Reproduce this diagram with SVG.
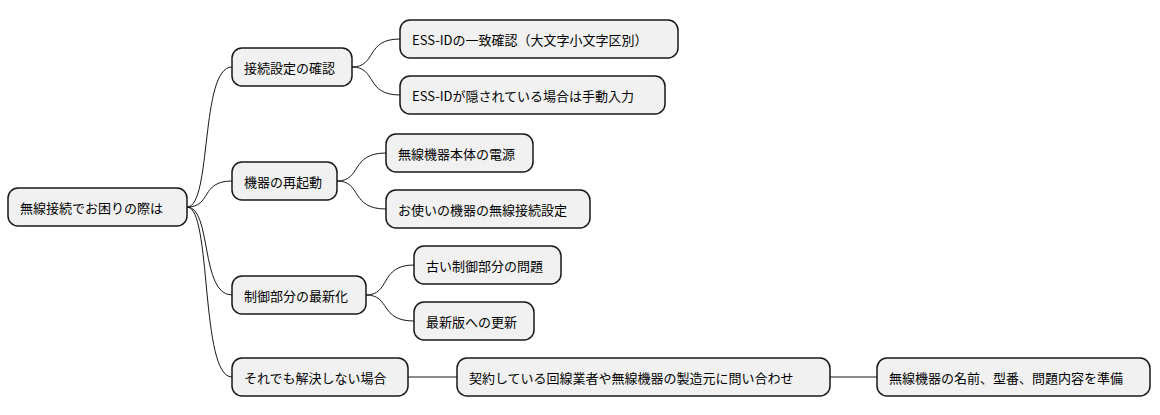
<svg xmlns="http://www.w3.org/2000/svg" width="1160" height="415" viewBox="0 0 1160 415">
<style>
rect{fill:#f1f1f1;stroke:#181818;stroke-width:1.5}
text{font-family:"Noto Sans CJK JP","DejaVu Sans",sans-serif;font-size:13px;fill:#000;dominant-baseline:central}
#edges path{fill:none;stroke:#181818;stroke-width:1}
</style>
<rect x="0" y="0" width="1160" height="415" style="fill:#fff;stroke:none"/>
<g id="edges">
<path d="M187,207 C212,207 200,67 232,67"/>
<path d="M187,207 C212,207 200,181 232,181"/>
<path d="M187,207 C212,207 200,295 232,295"/>
<path d="M187,207 C212,207 200,377 232,377"/>
<path d="M352,67 C377,67 365,39 400,39"/>
<path d="M352,67 C377,67 365,95 400,95"/>
<path d="M337,181 C362,181 350,153 386,153"/>
<path d="M337,181 C362,181 350,209 386,209"/>
<path d="M366,295 C391,295 379,265 414,265"/>
<path d="M366,295 C391,295 379,321 414,321"/>
<path d="M408,377 L457,377"/>
<path d="M830,377 L877,377"/>
</g>
<g id="root"><rect x="8" y="188" width="179" height="38" rx="10"/><text x="20" y="207">無線接続でお困りの際は</text></g>
<g id="n1"><rect x="232" y="48" width="120" height="38" rx="10"/><text x="244" y="67">接続設定の確認</text></g>
<g id="n2"><rect x="232" y="162" width="105" height="38" rx="10"/><text x="244" y="181">機器の再起動</text></g>
<g id="n3"><rect x="232" y="276" width="134" height="38" rx="10"/><text x="244" y="295">制御部分の最新化</text></g>
<g id="n4"><rect x="232" y="358" width="176" height="38" rx="10"/><text x="244" y="377">それでも解決しない場合</text></g>
<g id="n11"><rect x="400" y="20" width="278" height="38" rx="10"/><text x="412" y="39">ESS-IDの一致確認（大文字小文字区別）</text></g>
<g id="n12"><rect x="400" y="76" width="265" height="38" rx="10"/><text x="412" y="95">ESS-IDが隠されている場合は手動入力</text></g>
<g id="n21"><rect x="386" y="134" width="147" height="38" rx="10"/><text x="398" y="153">無線機器本体の電源</text></g>
<g id="n22"><rect x="386" y="190" width="204" height="38" rx="10"/><text x="398" y="209">お使いの機器の無線接続設定</text></g>
<g id="n31"><rect x="414" y="246" width="147" height="38" rx="10"/><text x="426" y="265">古い制御部分の問題</text></g>
<g id="n32"><rect x="414" y="302" width="120" height="38" rx="10"/><text x="426" y="321">最新版への更新</text></g>
<g id="n41"><rect x="457" y="358" width="373" height="38" rx="10"/><text x="469" y="377">契約している回線業者や無線機器の製造元に問い合わせ</text></g>
<g id="n42"><rect x="877" y="358" width="273" height="38" rx="10"/><text x="889" y="377">無線機器の名前、型番、問題内容を準備</text></g>
</svg>
